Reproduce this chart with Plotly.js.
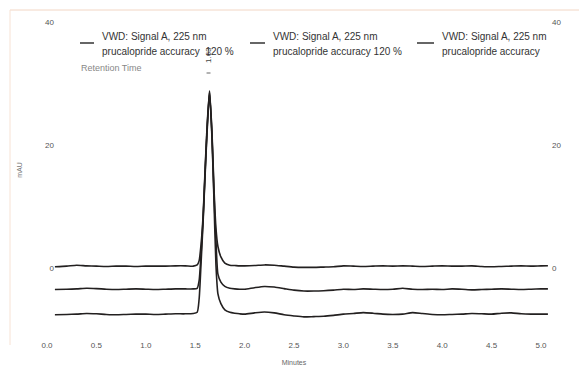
<!DOCTYPE html>
<html>
<head>
<meta charset="utf-8">
<script src="https://cdn.plot.ly/plotly-3.0.1.min.js"></script>
<style>html,body{margin:0;padding:0;background:#fff;}#chart{width:579px;height:371px;}</style>
</head>
<body>
<div id="chart"></div>
<script>
// Retention time (minutes)
const timeMin = [0.08,0.2,0.3,0.4,0.5,0.6,0.7,0.8,0.9,1.0,1.1,1.2,1.3,1.4,
  1.48,1.52,1.54,1.56,1.58,1.60,1.62,1.645,1.67,1.69,1.71,1.73,1.76,1.80,1.85,1.90,1.95,
  2.0,2.1,2.2,2.3,2.4,2.5,2.6,2.7,2.8,2.9,3.0,3.1,3.2,3.3,3.4,3.5,3.6,3.7,3.8,3.9,
  4.0,4.1,4.2,4.3,4.4,4.5,4.6,4.7,4.8,4.9,5.0,5.07];

// Signal (mAU), three injections (offset traces)
const signal1 = [0.2,0.3,0.45,0.35,0.3,0.25,0.3,0.3,0.25,0.3,0.3,0.3,0.35,0.35,
  0.3,0.5,1.2,4.0,8.5,16,23,28.8,22,13,6.5,3.5,1.8,0.8,0.45,0.4,0.35,
  0.35,0.4,0.5,0.45,0.3,0.15,0.1,0.1,0.15,0.2,0.35,0.3,0.25,0.3,0.35,0.3,0.35,0.3,0.25,0.3,
  0.35,0.3,0.3,0.35,0.25,0.2,0.25,0.3,0.35,0.3,0.35,0.37];
const signal2 = [-3.5,-3.45,-3.4,-3.3,-3.35,-3.45,-3.5,-3.45,-3.4,-3.45,-3.5,-3.45,-3.4,-3.4,
  -3.4,-3.3,-2.0,2.5,8,15.5,22.5,28.7,21.5,12,4.5,-1.0,-2.3,-3.0,-3.3,-3.4,-3.45,
  -3.45,-3.2,-3.0,-3.1,-3.35,-3.6,-3.75,-3.75,-3.7,-3.6,-3.45,-3.5,-3.4,-3.45,-3.5,-3.45,-3.3,-3.45,-3.5,-3.45,
  -3.5,-3.4,-3.45,-3.55,-3.5,-3.45,-3.4,-3.45,-3.5,-3.45,-3.4,-3.4];
const signal3 = [-7.6,-7.55,-7.5,-7.4,-7.45,-7.55,-7.6,-7.55,-7.5,-7.5,-7.55,-7.5,-7.45,-7.45,
  -7.4,-7.2,-5.0,1.0,7.5,15,22,28.5,21,11,0.5,-4.2,-5.8,-6.8,-7.2,-7.35,-7.45,
  -7.5,-7.3,-7.15,-7.3,-7.6,-7.8,-7.95,-7.9,-7.85,-7.7,-7.5,-7.4,-7.25,-7.35,-7.5,-7.55,-7.5,-7.25,-7.4,-7.55,
  -7.6,-7.55,-7.5,-7.4,-7.45,-7.5,-7.35,-7.3,-7.45,-7.5,-7.5,-7.5];

const seriesNames = ["VWD: Signal A, 225 nm", "VWD: Signal A, 225 nm", "VWD: Signal A, 225 nm"];
const sampleNames = ["prucalopride accuracy\u00a0\u00a0120 %", "prucalopride accuracy 120 %", "prucalopride accuracy"];
const xTickVals = [0,0.5,1,1.5,2,2.5,3,3.5,4,4.5,5];
const xTickText = ["0.0","0.5","1.0","1.5","2.0","2.5","3.0","3.5","4.0","4.5","5.0"];
const yTickVals = [0,20,40];
const peakTime = 1.63;

const L=37, R=551, T=10, B=330;
const px = v => (v - L) / (R - L);
const py = v => (B - v) / (B - T);
const FONT = "Liberation Sans, Arial, sans-serif";
const lineColor = "#232020";

const signals = [signal1, signal2, signal3];
const traces = signals.map((s, i) => ({
  x: timeMin, y: s, type: "scatter", mode: "lines", yaxis: i === 0 ? "y2" : "y",
  line: {color: lineColor, width: 1.6, shape: "spline", smoothing: 0.6},
  name: seriesNames[i], showlegend: false, hoverinfo: "skip"
}));

const legendX = [{dash0:80, dash1:94, text:100}, {dash0:250, dash1:265, text:271}, {dash0:417, dash1:434, text:440}];
const annotations = [];
const shapes = [];
legendX.forEach((p, i) => {
  annotations.push({xref:"paper", yref:"paper", x:px(p.text), y:py(36), xanchor:"left", yanchor:"middle",
    text: seriesNames[i], showarrow:false, font:{family:FONT, size:10, color:"#333"}});
  annotations.push({xref:"paper", yref:"paper", x:px(p.text), y:py(52), xanchor:"left", yanchor:"middle",
    text: sampleNames[i], showarrow:false, font:{family:FONT, size:10, color:"#333"}});
  shapes.push({type:"line", xref:"paper", yref:"paper", x0:px(p.dash0), x1:px(p.dash1), y0:py(43), y1:py(43),
    line:{color:"#333", width:1.5}});
});
annotations.push({xref:"paper", yref:"paper", x:px(79), y:py(68), xanchor:"left", yanchor:"middle",
  text:"Retention Time", showarrow:false, font:{family:FONT, size:9, color:"#888"}});
annotations.push({xref:"x", yref:"paper", x:peakTime, y:py(55), xanchor:"center", yanchor:"middle",
  text: peakTime.toFixed(2), textangle:-90, showarrow:false, font:{family:FONT, size:8, color:"#444"}});
shapes.push({type:"line", xref:"x", yref:"paper", x0:peakTime-0.015, x1:peakTime+0.025, y0:py(73), y1:py(73),
  line:{color:"#666", width:1}});
// faint scanned frame
shapes.push({type:"line", xref:"paper", yref:"paper", x0:px(10), x1:px(579), y0:py(10), y1:py(10), line:{color:"#f2d6c4", width:1}});
shapes.push({type:"line", xref:"paper", yref:"paper", x0:px(10), x1:px(10), y0:py(10), y1:py(345), line:{color:"#f7e2d4", width:1}});

const yRange = [(268-330)/6.15, (268-10)/6.15];
const layout = {
  width:579, height:371,
  margin:{l:L, r:579-R, t:T, b:371-B, pad:0},
  paper_bgcolor:"#fff", plot_bgcolor:"#fff",
  showlegend:false,
  font:{family:FONT, color:"#555"},
  xaxis:{range:[(37-47)/98.8, (551-47)/98.8], tickvals:xTickVals, ticktext:xTickText,
    showgrid:false, zeroline:false, showline:false, ticks:"", ticklabelstandoff:9,
    tickfont:{family:FONT, size:8, color:"#555"},
    title:{text:"Minutes", font:{family:FONT, size:7, color:"#666"}, standoff:11}},
  yaxis:{range:yRange, tickvals:yTickVals, showgrid:false, zeroline:false,
    anchor:"free", position:px(56),
    showline:false, ticks:"", ticklabelstandoff:2,
    tickfont:{family:FONT, size:8, color:"#555"},
    title:{text:"mAU", font:{family:FONT, size:7, color:"#777"}, standoff:20}},
  yaxis2:{overlaying:"y", side:"right", anchor:"x", range:yRange, tickvals:yTickVals,
    showgrid:false, zeroline:false, showline:false, ticks:"",
    tickfont:{family:FONT, size:8, color:"#555"}},
  annotations: annotations,
  shapes: shapes
};

Plotly.newPlot("chart", traces, layout, {displayModeBar:false, staticPlot:true});
</script>
</body>
</html>
